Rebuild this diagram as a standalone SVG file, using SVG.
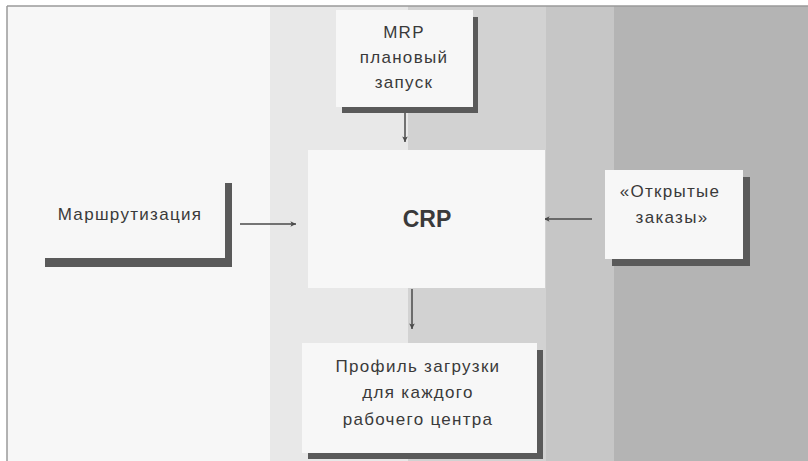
<svg xmlns="http://www.w3.org/2000/svg" width="808" height="461" viewBox="0 0 808 461">
  <style>
    .lbl { font-family: "Liberation Sans", Arial, sans-serif; font-size: 17px; fill: #3a3a3a; letter-spacing: 1.3px; text-anchor: middle; }
    .big { font-family: "Liberation Sans", Arial, sans-serif; font-size: 23px; font-weight: bold; fill: #3a3a3a; text-anchor: middle; }
    .box { fill: #f7f7f7; }
    .shadow { fill: #5a5a5a; }
    .conn { stroke: #4a4a4a; stroke-width: 1.5; fill: none; marker-end: url(#arrow); }
  </style>
  <defs>
    <marker id="arrow" viewBox="0 0 10 10" refX="9" refY="5" markerWidth="7" markerHeight="7" markerUnits="userSpaceOnUse" orient="auto">
      <path d="M1,1 L9,5 L1,9 L3,5 Z" fill="#4a4a4a"/>
    </marker>
  </defs>

  <!-- background bands -->
  <rect x="0" y="0" width="808" height="461" fill="#ffffff"/>
  <rect x="7" y="6" width="263" height="455" fill="#f7f7f7"/>
  <rect x="270" y="6" width="138" height="455" fill="#e8e8e8"/>
  <rect x="408" y="6" width="138" height="455" fill="#d2d2d2"/>
  <rect x="546" y="6" width="68" height="455" fill="#c6c6c6"/>
  <rect x="614" y="6" width="194" height="455" fill="#b4b4b4"/>
  <line x1="7" y1="6" x2="808" y2="6" stroke="#9a9a9a" stroke-width="1.5"/>
  <line x1="7" y1="6" x2="7" y2="461" stroke="#9a9a9a" stroke-width="1.5"/>

  <!-- connectors -->
  <g id="connectors">
    <line class="conn" x1="405" y1="113" x2="405" y2="142"/>
    <line class="conn" x1="240" y1="224" x2="296" y2="224"/>
    <line class="conn" x1="592" y1="219" x2="544" y2="219"/>
    <line class="conn" x1="412" y1="289" x2="412" y2="329"/>
  </g>

  <!-- MRP planned release -->
  <g id="node-mrp">
    <rect class="shadow" x="342" y="17" width="136" height="96"/>
    <rect class="box" x="336" y="10" width="137" height="97"/>
    <text class="lbl" x="404" y="38">MRP</text>
    <text class="lbl" x="404" y="63">плановый</text>
    <text class="lbl" x="404" y="88">запуск</text>
  </g>

  <!-- CRP -->
  <g id="node-crp">
    <rect class="box" x="308" y="150" width="237" height="138"/>
    <text class="big" x="427" y="227">CRP</text>
  </g>

  <!-- Routing -->
  <g id="node-routing">
    <rect class="shadow" x="225" y="183" width="7" height="84"/>
    <rect class="shadow" x="45" y="258" width="187" height="9"/>
    <text class="lbl" x="130" y="220">Маршрутизация</text>
  </g>

  <!-- Open orders -->
  <g id="node-orders">
    <rect class="shadow" x="612" y="177" width="138" height="89"/>
    <rect class="box" x="605" y="170" width="138" height="89"/>
    <text class="lbl" x="670" y="197">«Открытые</text>
    <text class="lbl" x="672" y="223">заказы»</text>
  </g>

  <!-- Load profile -->
  <g id="node-profile">
    <rect class="shadow" x="308" y="350" width="235" height="109"/>
    <rect class="box" x="302" y="343" width="235" height="110"/>
    <text class="lbl" x="418" y="372">Профиль загрузки</text>
    <text class="lbl" x="418" y="398">для каждого</text>
    <text class="lbl" x="418" y="425">рабочего центра</text>
  </g>
</svg>
